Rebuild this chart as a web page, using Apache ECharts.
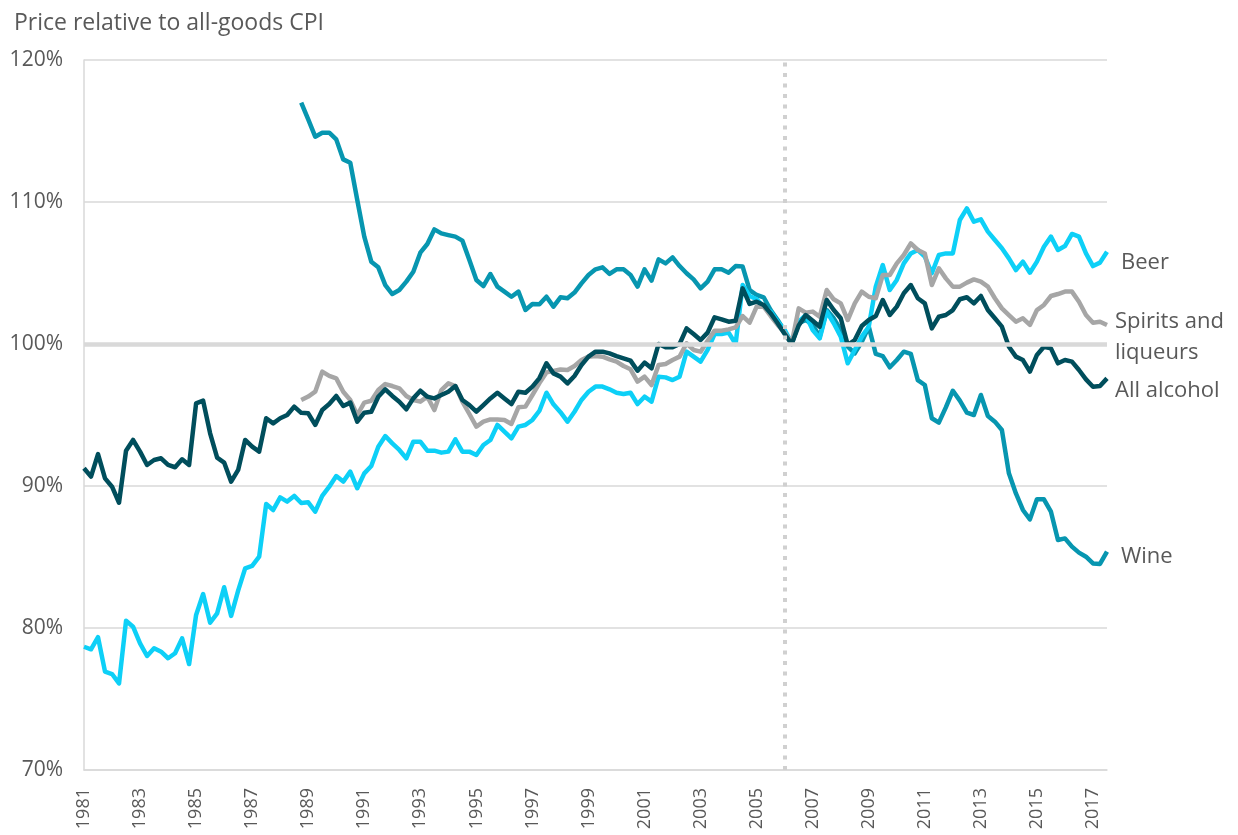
<!DOCTYPE html>
<html>
<head>
<meta charset="utf-8">
<script src="https://cdn.jsdelivr.net/npm/echarts@6/dist/echarts.min.js"></script>
<style>
  html, body { margin: 0; padding: 0; background: #fff; }
  #chart { width: 1238px; height: 835px; }
</style>
</head>
<body>
<div id="chart"></div>
<script>
// quarters 1981 Q1 .. 2017 Q3
const quarters = []
for (let y = 1981; y <= 2017; y++) {
  for (let q = 1; q <= 4; q++) {
    if (quarters.length < 147) quarters.push(y + ' Q' + q)
  }
}

const yTicks = [70, 80, 90, 100, 110, 120]

const allAlcohol = [
  91.25, 90.66, 92.25, 90.54, 89.95, 88.82, 92.49, 93.24, 92.42, 91.48,
  91.83, 91.95, 91.48, 91.32, 91.88, 91.48, 95.82, 96.01, 93.71, 92.0,
  91.65, 90.31, 91.13, 93.24, 92.77, 92.42, 94.77, 94.41, 94.77, 95.0,
  95.59, 95.15, 95.12, 94.3, 95.35, 95.77, 96.34, 95.63, 95.87, 94.53,
  95.16, 95.23, 96.29, 96.81, 96.34, 95.94, 95.4, 96.17, 96.71, 96.29,
  96.17, 96.41, 96.64, 97.04, 96.06, 95.7, 95.23, 95.7, 96.17, 96.57,
  96.17, 95.77, 96.64, 96.57, 97.0, 97.6, 98.64, 97.93, 97.7, 97.23,
  97.75, 98.52, 99.11, 99.46, 99.46, 99.34, 99.15, 98.99, 98.83, 98.12,
  98.69, 98.29, 100.0, 99.77, 99.77, 100.0, 101.1, 100.7, 100.28, 100.8,
  101.88, 101.74, 101.57, 101.64, 103.92, 102.82, 102.98, 102.75, 102.16, 101.46,
  100.7, 100.0, 101.3, 102.04, 101.64, 101.22, 103.1, 102.39, 101.81, 99.93,
  100.28, 101.27, 101.69, 101.97, 103.1, 102.04, 102.63, 103.57, 104.15, 103.22,
  102.86, 101.1, 101.92, 102.04, 102.39, 103.15, 103.29, 102.86, 103.38, 102.39,
  101.81, 101.22, 99.81, 99.11, 98.87, 98.05, 99.23, 99.81, 99.69, 98.64,
  98.87, 98.76, 98.17, 97.51, 96.99, 97.04, 97.58
]

const beer = [
  78.68, 78.5, 79.35, 76.93, 76.76, 76.1, 80.51, 80.09, 78.92, 78.03,
  78.57, 78.33, 77.87, 78.22, 79.27, 77.46, 80.92, 82.39, 80.37, 81.03,
  82.87, 80.85, 82.63, 84.2, 84.37, 85.02, 88.73, 88.31, 89.2, 88.9,
  89.3, 88.8, 88.85, 88.19, 89.3, 89.95, 90.7, 90.31, 91.01, 89.84,
  90.89, 91.41, 92.77, 93.52, 93.0, 92.54, 91.95, 93.12, 93.12, 92.49,
  92.49, 92.35, 92.42, 93.29, 92.42, 92.42, 92.18, 92.89, 93.24, 94.3,
  93.83, 93.36, 94.18, 94.3, 94.65, 95.3, 96.57, 95.75, 95.2, 94.53,
  95.23, 96.06, 96.64, 97.0, 97.0, 96.81, 96.57, 96.48, 96.57, 95.77,
  96.29, 95.94, 97.7, 97.65, 97.46, 97.7, 99.46, 99.11, 98.76, 99.58,
  100.7, 100.7, 100.8, 100.0, 104.15, 103.38, 103.15, 102.63, 102.28, 101.57,
  101.0, 100.05, 101.57, 102.04, 100.99, 100.4, 102.28, 101.46, 100.52, 98.64,
  99.58, 100.52, 101.22, 104.04, 105.56, 103.8, 104.51, 105.68, 106.38, 106.62,
  106.15, 104.98, 106.27, 106.38, 106.38, 108.73, 109.55, 108.61, 108.78, 107.91,
  107.32, 106.74, 106.03, 105.21, 105.8, 105.02, 105.8, 106.85, 107.56, 106.62,
  106.9, 107.75, 107.56, 106.38, 105.49, 105.73, 106.5
]

// spirits and wine start in 1988 Q4
const spirits = [
  null, null, null, null, null, null, null, null, null, null,
  null, null, null, null, null, null, null, null, null, null,
  null, null, null, null, null, null, null, null, null, null,
  null, 96.06, 96.3, 96.64, 98.05, 97.75, 97.58, 96.64, 96.06, 95.0,
  95.87, 96.0, 96.76, 97.18, 97.04, 96.88, 96.34, 96.06, 95.94, 96.29,
  95.35, 96.76, 97.23, 97.04, 95.94, 95.07, 94.18, 94.53, 94.69, 94.69,
  94.65, 94.37, 95.54, 95.59, 96.41, 97.25, 98.0, 98.1, 98.2, 98.17,
  98.45, 98.87, 99.11, 99.15, 99.11, 98.92, 98.76, 98.45, 98.22, 97.35,
  97.7, 97.11, 98.52, 98.59, 98.87, 99.11, 100.05, 99.58, 99.46, 100.23,
  100.94, 100.94, 101.03, 101.17, 101.97, 101.5, 102.63, 102.63, 101.97, 101.34,
  100.8, 100.05, 102.51, 102.21, 102.28, 101.92, 103.8, 103.15, 102.86, 101.69,
  102.86, 103.69, 103.33, 103.22, 104.86, 104.86, 105.68, 106.27, 107.09, 106.62,
  106.38, 104.15, 105.33, 104.62, 104.04, 104.04, 104.32, 104.55, 104.39, 104.04,
  103.22, 102.51, 102.04, 101.57, 101.81, 101.34, 102.39, 102.75, 103.38, 103.52,
  103.69, 103.69, 102.98, 102.04, 101.5, 101.57, 101.34
]

const wine = [
  null, null, null, null, null, null, null, null, null, null,
  null, null, null, null, null, null, null, null, null, null,
  null, null, null, null, null, null, null, null, null, null,
  null, 117.0, 115.82, 114.6, 114.88, 114.88, 114.41, 113.0, 112.77, 110.14,
  107.56, 105.8, 105.4, 104.15, 103.52, 103.8, 104.39, 105.09, 106.43, 107.04,
  108.07, 107.79, 107.67, 107.56, 107.28, 105.92, 104.51, 104.08, 104.93, 104.04,
  103.69, 103.33, 103.69, 102.4, 102.82, 102.8, 103.33, 102.63, 103.29, 103.22,
  103.62, 104.27, 104.86, 105.26, 105.4, 104.93, 105.26, 105.26, 104.86, 104.04,
  105.26, 104.46, 105.96, 105.68, 106.1, 105.49, 104.98, 104.55, 103.92, 104.39,
  105.26, 105.26, 105.02, 105.49, 105.45, 103.8, 103.45, 103.29, 102.39, 101.69,
  100.9, 100.0, 101.46, 101.69, 101.34, 100.52, 102.39, 101.81, 100.99, 99.81,
  99.34, 100.16, 101.22, 99.3, 99.15, 98.36, 98.87, 99.46, 99.3, 97.46,
  97.11, 94.77, 94.46, 95.54, 96.71, 96.01, 95.16, 95.0, 96.41, 94.93,
  94.53, 93.94, 90.89, 89.48, 88.31, 87.65, 89.06, 89.06, 88.19, 86.2,
  86.31, 85.73, 85.31, 85.02, 84.55, 84.51, 85.38
]

const baseQuarter = '2006 Q1'
const fontFamily = '"Open Sans", sans-serif'
const textColor = '#595959'

const chart = echarts.init(document.getElementById('chart'))

// one line series with its own label at the end
const lineSeries = (name, data, color, text, offset) => {
  return {
    name: name,
    type: 'line',
    data: data,
    symbol: 'none',
    z: 3,
    lineStyle: { color: color, width: 4.5, join: 'round' },
    endLabel: {
      show: true,
      formatter: text,
      distance: 0,
      offset: offset,
      color: textColor,
      fontFamily: fontFamily,
      fontSize: 22,
      lineHeight: 31
    }
  }
}

const option = {
  animation: false,
  title: {
    text: 'Price relative to all-goods CPI',
    left: 9,
    top: 7,
    textStyle: {
      color: textColor,
      fontFamily: fontFamily,
      fontSize: 23,
      fontWeight: 'normal'
    }
  },
  grid: {
    left: 84,
    right: 131,
    top: 60,
    bottom: 65
  },
  xAxis: {
    type: 'category',
    data: quarters,
    boundaryGap: false,
    axisLine: { lineStyle: { color: '#d9d9d9', width: 1.5 } },
    axisTick: { show: false },
    axisLabel: {
      rotate: 90,
      margin: 18,
      color: textColor,
      fontFamily: fontFamily,
      fontSize: 18,
      interval: (idx, val) => val.endsWith('Q1') && parseInt(val) % 2 === 1,
      formatter: (val) => val.slice(0, 4)
    },
    splitLine: { show: false }
  },
  yAxis: {
    type: 'value',
    min: yTicks[0],
    max: yTicks[yTicks.length - 1],
    interval: 10,
    axisLine: { show: true, lineStyle: { color: '#d9d9d9', width: 1.5 } },
    axisTick: { show: false },
    axisLabel: {
      margin: 21,
      color: textColor,
      fontFamily: fontFamily,
      fontSize: 21,
      formatter: '{value}%'
    },
    splitLine: { lineStyle: { color: '#d9d9d9', width: 1.5 } }
  },
  series: [
    // 100% line and the dotted base-period line, under the data
    {
      name: 'ref',
      type: 'line',
      data: [],
      z: 1,
      markLine: {
        silent: true,
        symbol: 'none',
        label: { show: false },
        data: [
          { yAxis: 100, lineStyle: { color: '#d9d9d9', width: 4.5, type: 'solid' } },
          { xAxis: baseQuarter, lineStyle: { color: '#d0d0d0', width: 4, type: [4, 6.5] } }
        ]
      }
    },
    lineSeries('Wine', wine, '#0796B0', 'Wine', [14, 5]),
    lineSeries('Beer', beer, '#0DD0F7', 'Beer', [14, 11]),
    lineSeries('Spirits and liqueurs', spirits, '#A6A6A6', 'Spirits and\nliqueurs', [8, 12]),
    lineSeries('All alcohol', allAlcohol, '#004E5C', 'All alcohol', [8, 12])
  ]
}

chart.setOption(option)
</script>
</body>
</html>
